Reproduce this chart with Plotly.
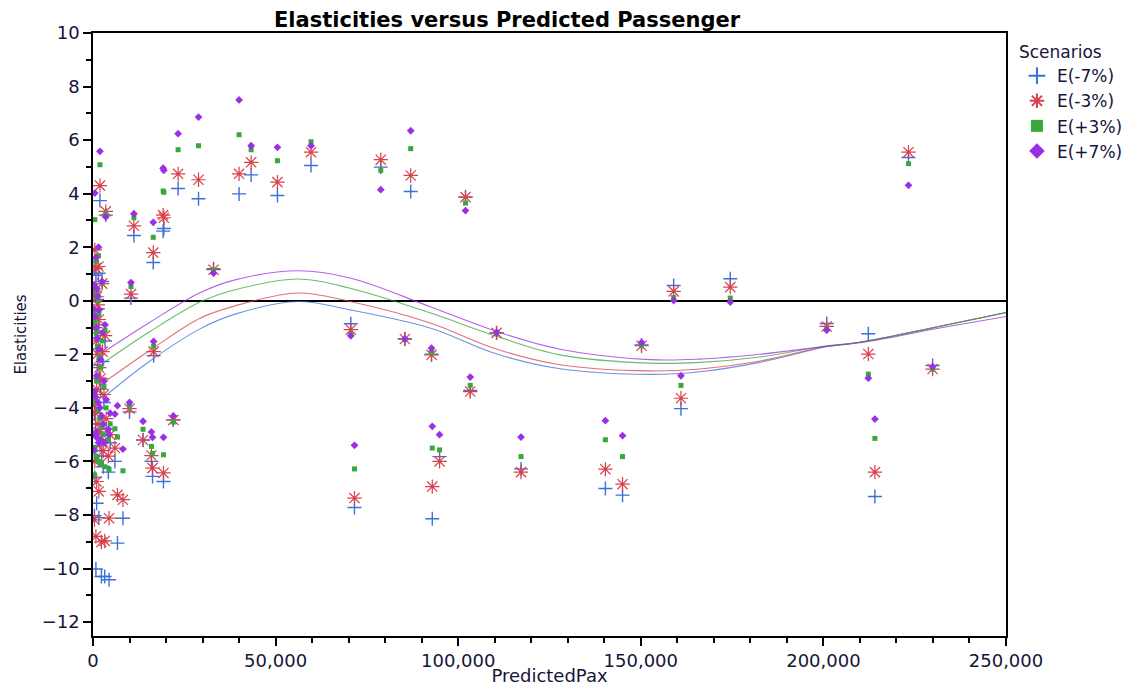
import plotly.graph_objects as go

# ---------------- data ----------------
pax = [1900, 3500, 500, 1500, 800, 2500, 300, 1100, 1300,
       11200, 10400, 10000, 16500, 19200, 19400, 33000, 16600, 22000,
       13700, 16000, 16300, 19300, 6000, 6700, 8200,
       23300, 28900, 40000, 43300, 50500, 59700, 78800, 87000, 102000,
       70600, 71600, 85400, 92700, 103300, 110500, 92900, 94900, 117200,
       159000, 174500, 223300, 150200, 161000, 140300, 145000,
       200900, 212300, 214100, 229900,
       800, 2300, 3200, 4400, 400, 1000, 1600,
       200, 600, 900, 1200, 1700, 2100, 2600, 3000, 400, 700, 1400,
       1900, 2400, 2800, 3600, 4200, 500, 1000, 1600, 3300, 4700]

e_m7 = [3.74, 3.2, 1.2, 1.03, 0.95, 0.72, 0.2, 0.05, -0.3,
        2.44, 0.1, -4.15, 1.43, 2.6, 2.7, 1.2, -2.05, -4.45,
        -5.2, -6.0, -6.56, -6.75, -6.0, -9.05, -8.12,
        4.19, 3.81, 3.99, 4.7, 3.93, 5.05, 4.99, 4.08, 3.87,
        -0.86, -7.72, -1.43, -2.0, -3.35, -1.2, -8.14, -5.82, -6.28,
        0.57, 0.82, 5.35, -1.65, -4.03, -7.01, -7.26,
        -0.85, -1.23, -7.31, -2.42,
        -10.02, -10.3, -10.3, -10.42, -8.03, -7.56, -8.1,
        -0.6, -1.2, -1.8, -2.4, -2.9, -3.3, -2.27, -3.8, -4.2, -4.6, -5.0,
        -5.4, -5.8, -6.2, -4.8, -6.4, -6.6, -3.6, -0.9, -1.5, -5.3]

e_m3 = [4.3, 3.34, 1.9, 1.28, 1.22, 0.64, 0.35, 0.15, -0.15,
        2.8, 0.25, -4.03, 1.8, 3.2, 3.1, 1.16, -1.9, -4.45,
        -5.2, -5.78, -6.25, -6.43, -5.5, -7.25, -7.43,
        4.74, 4.52, 4.74, 5.17, 4.43, 5.55, 5.27, 4.68, 3.87,
        -1.08, -7.37, -1.43, -2.02, -3.39, -1.2, -6.94, -6.0, -6.4,
        0.35, 0.51, 5.55, -1.68, -3.64, -6.29, -6.85,
        -0.96, -1.99, -6.4, -2.55,
        -8.8, -9.01, -8.97, -8.12, -8.18, -6.75, -7.12,
        -0.5, -1.0, -1.5, -2.0, -2.5, -2.9, -1.9, -3.5, -3.9, -4.2, -4.6,
        -4.9, -5.3, -5.6, -4.4, -5.8, -6.0, -3.3, -0.7, -1.3, -5.0]

e_p3 = [5.08, 3.25, 3.03, 1.68, 1.47, 0.66, 0.5, 0.3, 0.0,
        3.1, 0.53, -3.95, 2.37, 4.1, 4.05, 1.15, -1.7, -4.53,
        -4.8, -5.44, -5.7, -5.75, -4.78, -5.09, -6.35,
        5.64, 5.79, 6.2, 5.64, 5.23, 5.94, 4.87, 5.68, 3.65,
        -1.24, -6.28, -1.45, -1.92, -3.16, -1.22, -5.5, -5.57, -5.82,
        0.12, 0.1, 5.12, -1.68, -3.16, -5.19, -5.82,
        -1.05, -2.74, -5.14, -2.56,
        -5.8, -6.1, -6.2, -6.3, -6.5, -5.9, -6.0,
        -0.4, -0.8, -1.2, -1.7, -2.1, -2.5, -1.5, -3.2, -3.6, -3.8, -4.1,
        -4.4, -4.7, -5.0, -4.0, -5.2, -5.5, -3.0, -0.5, -1.1, -4.6]

e_p7 = [5.58, 3.13, 4.02, 2.0, 1.62, 0.72, 0.6, 0.45, 0.16,
        3.25, 0.68, -3.8, 2.93, 4.95, 4.87, 1.03, -1.52, -4.3,
        -4.5, -4.9, -5.1, -5.1, -4.23, -3.92, -5.54,
        6.24, 6.86, 7.5, 5.79, 5.73, 5.79, 4.15, 6.35, 3.37,
        -1.31, -5.4, -1.42, -1.77, -2.85, -1.18, -4.69, -5.0, -5.09,
        0.01, -0.05, 4.31, -1.56, -2.8, -4.48, -5.04,
        -1.1, -2.89, -4.42, -2.46,
        -4.9, -5.2, -5.3, -5.0, -5.6, -5.1, -5.3,
        -0.3, -0.6, -1.0, -1.4, -1.8, -2.2, -1.2, -3.0, -3.4, -3.6, -3.8,
        -4.0, -4.3, -4.6, -3.7, -4.8, -5.0, -2.8, -0.35, -0.9, -4.2]

# fitted curves, points
fit_x = [2500, 15600, 29300, 38900, 56100, 70400, 92300, 110600, 127900,
         152500, 166200, 182600, 200900, 210000, 231900, 250000]
fit_m7 = [-3.65, -2.25, -1.05, -0.5, -0.03, -0.34, -1.02, -1.99, -2.54,
          -2.75, -2.65, -2.3, -1.72, -1.55, -0.95, -0.44]
fit_m3 = [-3.1, -1.85, -0.65, -0.19, 0.29, -0.03, -0.83, -1.81, -2.39,
          -2.62, -2.55, -2.25, -1.7, -1.55, -0.95, -0.44]
fit_p3 = [-2.35, -1.15, -0.05, 0.41, 0.81, 0.47, -0.45, -1.33, -2.02,
          -2.33, -2.3, -2.1, -1.68, -1.55, -0.96, -0.45]
fit_p7 = [-1.95, -0.8, 0.3, 0.78, 1.12, 0.85, -0.22, -1.15, -1.81,
          -2.2, -2.18, -2.0, -1.7, -1.57, -1.02, -0.59]

series_names = ["E(-7%)", "E(-3%)", "E(+3%)", "E(+7%)"]
x_ticks = [0, 50000, 100000, 150000, 200000, 250000]
x_tick_text = ["0", "50,000", "100,000", "150,000", "200,000", "250,000"]

# ---------------- styles ----------------
BLUE = "#3b6fdc"
RED = "#d8414b"
GREEN = "#37a93a"
PURPLE = "#9b2fe6"

fig = go.Figure()

for ys, col in [(fit_m7, BLUE), (fit_m3, RED), (fit_p3, GREEN), (fit_p7, PURPLE)]:
    fig.add_trace(go.Scatter(x=fit_x, y=ys, mode="lines", showlegend=False,
                             line=dict(color=col, width=1.1, shape="spline", smoothing=1.0),
                             opacity=0.75, hoverinfo="skip"))

fig.add_trace(go.Scatter(x=pax, y=e_m7, mode="markers", name=series_names[0],
                         marker=dict(symbol="cross-thin", size=10, color=BLUE,
                                     line=dict(color=BLUE, width=1.4))))
fig.add_trace(go.Scatter(x=pax, y=e_m3, mode="markers", name=series_names[1],
                         marker=dict(symbol="asterisk-open", size=12, color=RED,
                                     line=dict(color=RED, width=1.2))))
fig.add_trace(go.Scatter(x=pax, y=e_p3, mode="markers", name=series_names[2],
                         marker=dict(symbol="square", size=5, color=GREEN,
                                     line=dict(width=0))))
fig.add_trace(go.Scatter(x=pax, y=e_p7, mode="markers", name=series_names[3],
                         marker=dict(symbol="diamond", size=6, color=PURPLE,
                                     line=dict(width=0))))

FONT = "DejaVu Sans, Verdana, sans-serif"
TXT = "#15153a"

# the page body has an 8px margin, so the figure is 8px smaller than the window
W, H = 1125, 678

fig.update_layout(
    width=W, height=H,
    margin=dict(l=85, r=127, t=25, b=50, autoexpand=False),
    paper_bgcolor="white", plot_bgcolor="white",
    font=dict(family=FONT, size=18, color=TXT),
    title=dict(text="<b>Elasticities versus Predicted Passenger</b>",
               x=0.4535, xref="paper", xanchor="center",
               y=1 - 12 / H, yref="container", yanchor="middle",
               font=dict(family=FONT, size=21, color="black")),
    legend=dict(title=dict(text="Scenarios", font=dict(size=17, color=TXT)),
                x=1.012, xanchor="left", y=0.995, yanchor="top",
                font=dict(size=17, color=TXT), tracegroupgap=0,
                itemsizing="constant",
                bgcolor="rgba(0,0,0,0)"),
    showlegend=True,
)

fig.update_xaxes(range=[0, 250000], tickvals=x_ticks, ticktext=x_tick_text,
                 showgrid=False, zeroline=False, automargin=False,
                 showline=True, linecolor="black", linewidth=1.5, mirror=True,
                 ticks="outside", ticklen=8, tickwidth=1.5, tickcolor="black",
                 minor=dict(dtick=10000, tick0=0, ticks="outside", ticklen=5,
                            tickwidth=1.5, tickcolor="black", showgrid=False),
                 tickfont=dict(size=18, color=TXT),
                 title=dict(text="PredictedPax", font=dict(size=18, color=TXT), standoff=6))

fig.update_yaxes(range=[-12.52, 10], tick0=0, dtick=2,
                 showgrid=False, zeroline=True, zerolinecolor="black", zerolinewidth=1.5,
                 automargin=False,
                 showline=True, linecolor="black", linewidth=1.5, mirror=True,
                 ticks="outside", ticklen=8, tickwidth=1.5, tickcolor="black",
                 minor=dict(dtick=1, tick0=0, ticks="outside", ticklen=5,
                            tickwidth=1.5, tickcolor="black", showgrid=False),
                 tickfont=dict(size=18, color=TXT),
                 title=dict(text="Elasticities", font=dict(size=15, color=TXT), standoff=11))

fig.write_html("out.html")
